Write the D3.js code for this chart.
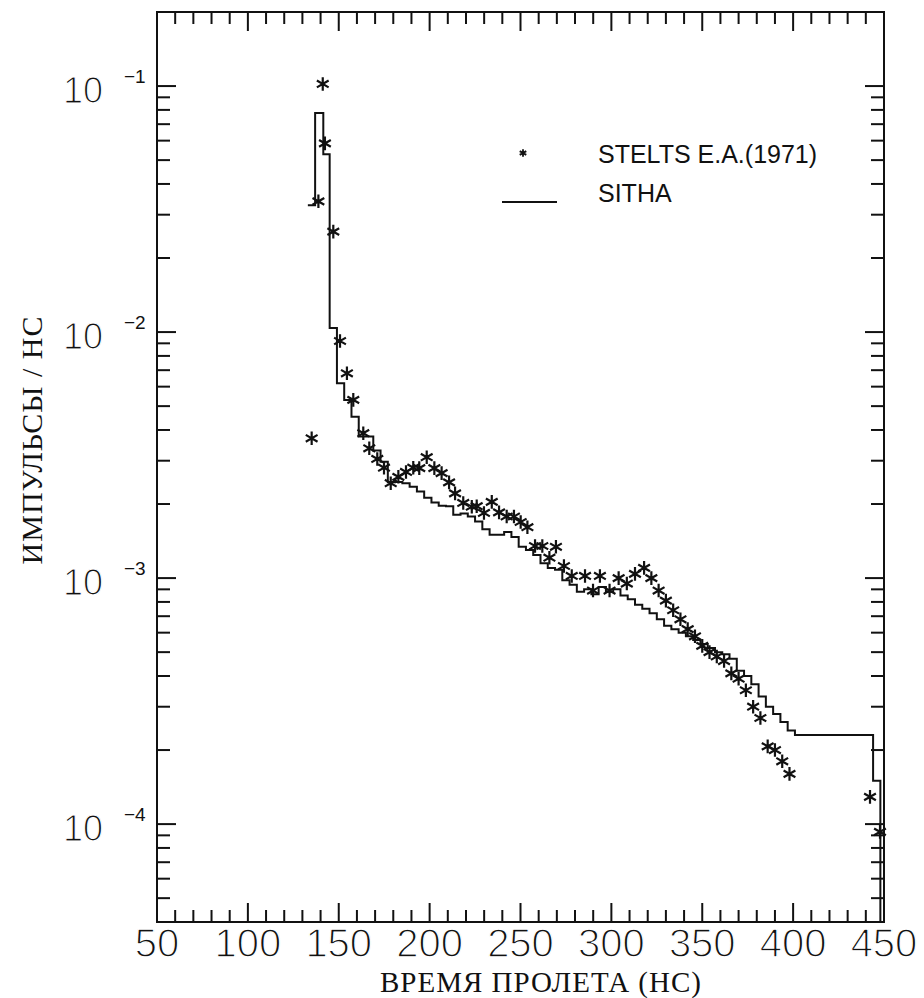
<!DOCTYPE html>
<html><head><meta charset="utf-8">
<script src="https://cdn.jsdelivr.net/npm/d3@7"></script>
<style>body{margin:0;background:#fff}</style></head>
<body><svg id="c" width="924" height="998"></svg>
<script>
// ---- data ----
const xTicks = [50,100,150,200,250,300,350,400,450];
const yDecades = [1e-1,1e-2,1e-3,1e-4];
const yExps = ["\u22121","\u22122","\u22123","\u22124"];
const legendLabels = ["STELTS E.A.(1971)","SITHA"];
// experimental points (time ns, counts/ns)
const expT = [135.1,138.8,141.2,142.4,147.0,150.7,154.5,158.0,163.5,166.8,171.2,174.9,178.6,182.8,187.0,191.0,194.3,198.4,202.6,206.6,210.7,214.0,218.5,223.2,225.9,229.9,234.2,238.2,242.4,246.4,250.1,253.8,258.0,262.0,265.9,269.5,273.9,278.2,285.5,289.9,293.7,299,304,308.5,313,318,322,326,330,334,338,342,346,350,354,358,362,366,370,374,378,382,386,390,394,398,442.3,447.8];
const expV = [0.0037,0.034,0.102,0.0585,0.0256,0.0092,0.0068,0.0053,0.00388,0.00337,0.00305,0.00281,0.00243,0.00258,0.0027,0.00281,0.0028,0.0031,0.0028,0.00267,0.00245,0.00221,0.00202,0.00195,0.00196,0.00184,0.00204,0.00185,0.00178,0.00178,0.00169,0.00161,0.00135,0.00135,0.00121,0.00134,0.00112,0.00102,0.00102,0.00089,0.00102,0.00089,0.0010,0.00095,0.00104,0.0011,0.0010,0.00089,0.00081,0.00074,0.00068,0.00062,0.00058,0.00053,0.0005,0.00048,0.00046,0.00041,0.00039,0.00035,0.0003,0.00027,0.000207,0.0002,0.00018,0.00016,0.000129,0.000093];
// SITHA histogram: bin edges and bin values
const histEdges = [133,137,141.5,145,149,153,157,161,165,169,173,177,181,185,189,193,197,201,205,209,213,217,221,225,229,233,237,241,245,249,253,257,261,265,269,273,277,281,285,289,293,297,301,305,309,313,317,321,325,329,333,337,341,345,349,353,357,361,365,369,373,377,381,385,389,393,397,401,440,444,448];
const histV = [0.0328,0.0777,0.0528,0.0104,0.0062,0.0053,0.00453,0.00376,0.00376,0.0033,0.00297,0.00245,0.00246,0.00243,0.00235,0.00225,0.00212,0.00203,0.00197,0.00196,0.00181,0.00183,0.00178,0.0017,0.00158,0.0015,0.0015,0.00154,0.00147,0.00134,0.0013,0.00124,0.00115,0.0011,0.00108,0.00098,0.00094,0.00088,0.0009,0.00086,0.00092,0.00088,0.0009,0.00085,0.00082,0.00078,0.00075,0.00072,0.00068,0.00064,0.00062,0.0006,0.00058,0.00056,0.00054,0.00052,0.0005,0.00049,0.00047,0.00042,0.0004,0.00037,0.00033,0.0003,0.00028,0.00026,0.00024,0.00023,0.00023,0.00015];

// ---- layout ----
const L=157, R=884, T=12, B=922;
const svg = d3.select("#c");
const x = d3.scaleLinear().domain([50,450]).range([L,R]);
const y = d3.scaleLog().domain([4e-5,0.2]).range([B,T]);
const ink = "#111";

// frame
svg.append("rect").attr("x",L).attr("y",T).attr("width",R-L).attr("height",B-T)
  .attr("fill","none").attr("stroke",ink).attr("stroke-width",2);

// x ticks (inward, bottom and top)
const xMinor = d3.range(50,451,10);
const gx = svg.append("g").attr("stroke",ink).attr("stroke-width",2);
xMinor.forEach(v=>{
  if(v===50||v===450) return;
  const len = (v%50===0)?19:12;
  gx.append("line").attr("x1",x(v)).attr("x2",x(v)).attr("y1",B).attr("y2",B-len);
  gx.append("line").attr("x1",x(v)).attr("x2",x(v)).attr("y1",T).attr("y2",T+len);
});
// y ticks (inward, left and right)
const yAll = y.ticks();
const gy = svg.append("g").attr("stroke",ink).attr("stroke-width",2);
yAll.forEach(v=>{
  const py = y(v);
  if(py<T+1||py>B-1) return;
  const m = Math.abs(Math.log10(v)-Math.round(Math.log10(v)))<1e-6;
  const len = m?19:13;
  gy.append("line").attr("x1",L).attr("x2",L+len).attr("y1",py).attr("y2",py);
  gy.append("line").attr("x1",R).attr("x2",R-len).attr("y1",py).attr("y2",py);
});

// x labels (thin strokes: white outline erodes the glyphs slightly)
svg.append("g").selectAll("text").data(xTicks).join("text")
  .attr("x",d=>x(d)).attr("y",B+35).attr("text-anchor","middle")
  .attr("font-family","Liberation Sans, Arial, sans-serif").attr("font-size",40)
  .attr("fill",ink).attr("stroke","#fff").attr("stroke-width",1.3).text(d=>d);
// y labels
const gyl = svg.append("g").attr("font-family","Liberation Sans, Arial, sans-serif").attr("fill",ink);
yDecades.forEach((v,i)=>{
  gyl.append("text").attr("x",103).attr("y",y(v)+17).attr("text-anchor","end")
    .attr("font-size",36).attr("stroke","#fff").attr("stroke-width",1.2).text("10");
  gyl.append("text").attr("x",124).attr("y",y(v)-3).attr("font-size",19).text(yExps[i]);
});

// axis titles
svg.append("text").attr("x",541).attr("y",992).attr("text-anchor","middle")
  .attr("font-family","Liberation Serif, Times New Roman, serif").attr("font-size",29)
  .attr("letter-spacing",1).attr("fill",ink).text("ВРЕМЯ  ПРОЛЕТА  (НС)");
svg.append("text").attr("transform","translate(42,440) rotate(-90)").attr("text-anchor","middle")
  .attr("font-family","Liberation Serif, Times New Roman, serif").attr("font-size",30)
  .attr("letter-spacing",1).attr("fill",ink).text("ИМПУЛЬСЫ  /  НС");

// histogram (step line)
const stepPts = [];
histV.forEach((v,i)=>{ stepPts.push([histEdges[i],v]); stepPts.push([histEdges[i+1],v]); });
stepPts.push([histEdges[histEdges.length-1], y.domain()[0]]);
svg.append("path").datum(stepPts)
  .attr("d", d3.line().x(d=>x(d[0])).y(d=>y(d[1])))
  .attr("fill","none").attr("stroke",ink).attr("stroke-width",2);

// experimental asterisks
const star = d3.symbol().type(d3.symbolAsterisk).size(130);
svg.append("g").selectAll("path").data(expT.map((t,i)=>[t,expV[i]])).join("path")
  .attr("transform",d=>`translate(${x(d[0])},${y(d[1])})`)
  .attr("d",star).attr("fill","none").attr("stroke",ink).attr("stroke-width",2.2);

// legend
const lg = svg.append("g");
lg.append("path").attr("transform","translate(523,153)").attr("d",d3.symbol().type(d3.symbolAsterisk).size(40))
  .attr("stroke",ink).attr("stroke-width",1.8).attr("fill","none");
lg.append("line").attr("x1",502).attr("x2",557).attr("y1",202).attr("y2",202).attr("stroke",ink).attr("stroke-width",2);
lg.selectAll("text").data(legendLabels).join("text")
  .attr("x",598).attr("y",(d,i)=>i?202:163)
  .attr("font-family","Liberation Sans, Arial, sans-serif").attr("font-size",25)
  .attr("fill",ink).text(d=>d);
</script></body></html>
